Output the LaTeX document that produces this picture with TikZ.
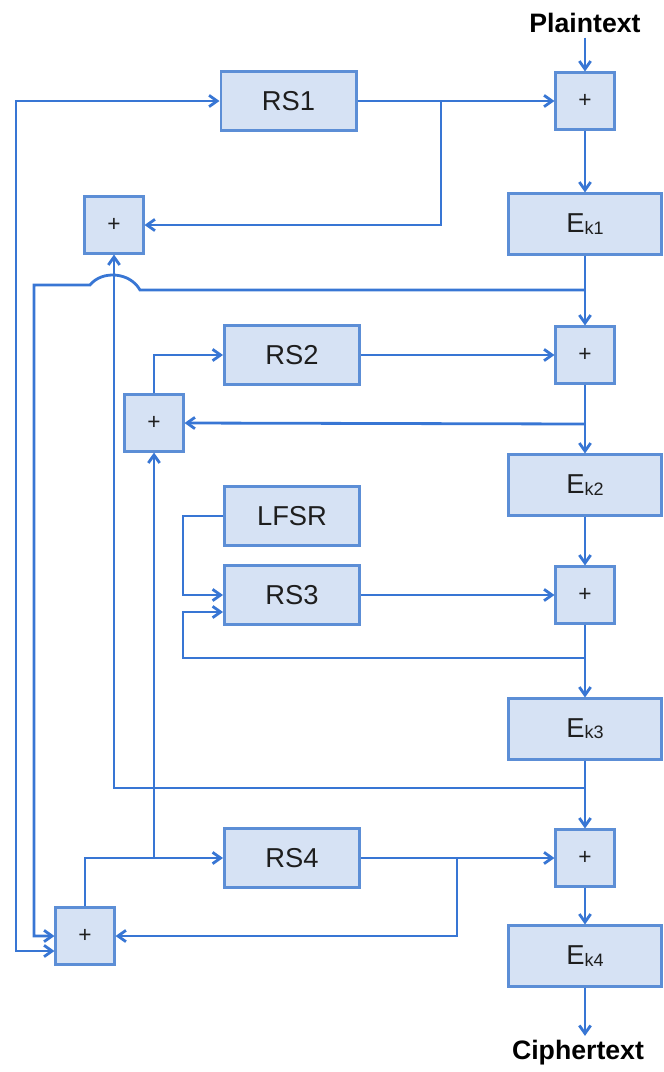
\documentclass[tikz,border=0pt]{standalone}
\usepackage{fontspec}
\setmainfont{Liberation Sans}
\usetikzlibrary{arrows.meta,calc}
\definecolor{ln}{RGB}{56,118,212}
\definecolor{bx}{RGB}{214,226,244}
\definecolor{bd}{RGB}{92,142,214}
\definecolor{tx}{RGB}{30,30,30}
\begin{document}
\begin{tikzpicture}[x=0.75pt,y=-0.75pt,
 box/.style={draw=bd,fill=bx,line width=2pt,inner sep=0pt,font=\fontsize{20.5}{24}\selectfont,text=tx},
 rs/.style={box,minimum width=101.5pt,minimum height=44.5pt},
 ek/.style={box,minimum width=114.3pt,minimum height=45.3pt},
 xr/.style={box,minimum width=43.8pt,minimum height=42.3pt,font=\fontsize{17}{20}\selectfont},
 lbl/.style={font=\bfseries\fontsize{20}{24}\selectfont,text=black},
 wire/.style={draw=ln,line width=2.1pt},
 arr/.style={wire,-{Straight Barb[length=6pt,width=8.5pt]}},
 dbl/.style={wire,{Straight Barb[length=6pt,width=8.5pt]}-{Straight Barb[length=6pt,width=8.5pt]}}]
\useasboundingbox (0,0) rectangle (664,1072);
\newcommand{\ekl}[1]{E\raisebox{-1pt}{\fontsize{13.5}{15}\selectfont k#1}}
% nodes
\node[lbl] (pt) at (585,23) {Plaintext};
\node[xr] (P0) at (585,101) {+};
\node[rs] (RS1) at (288.5,101) {RS1};
\node[ek] (E1) at (585,224) {\ekl{1}};
\node[xr] (P1) at (114,225) {+};
\node[xr] (P2) at (585,355) {+};
\node[rs] (RS2) at (292,355) {RS2};
\node[xr] (P3) at (154,423) {+};
\node[ek] (E2) at (585,485) {\ekl{2}};
\node[rs] (LF) at (292,516) {LFSR};
\node[rs] (RS3) at (292,595) {RS3};
\node[xr] (P4) at (585,595) {+};
\node[ek] (E3) at (585,729) {\ekl{3}};
\node[xr] (P5) at (585,858) {+};
\node[rs] (RS4) at (292,858) {RS4};
\node[xr] (P6) at (85,936) {+};
\node[ek] (E4) at (585,956) {\ekl{4}};
\node[lbl] (ct) at (578,1053) {Ciphertext};
% junctions
\coordinate (j1) at (441,101);
\coordinate (j2) at (585,290);
\coordinate (j3) at (585,424);
\coordinate (j4) at (585,658);
\coordinate (j5) at (585,788);
\coordinate (j6) at (457,858);
\coordinate (j7) at (154,858);
% main chain
\draw[arr] (pt.south) -- (P0.north);
\draw[arr] (P0.south) -- (E1.north);
\draw[arr] (E1.south) -- (P2.north);
\draw[arr] (P2.south) -- (E2.north);
\draw[arr] (E2.south) -- (P4.north);
\draw[arr] (P4.south) -- (E3.north);
\draw[arr] (E3.south) -- (P5.north);
\draw[arr] (P5.south) -- (E4.north);
\draw[arr] (E4.south) -- (E4.south |- ct.north);
% register outputs
\draw[arr] (RS1.east) -- (P0.west);
\draw[arr] (RS2.east) -- (P2.west);
\draw[arr] (RS3.east) -- (P4.west);
\draw[arr] (RS4.east) -- (P5.west);
% feedback
\draw[arr] (j1) |- (P1.east);
\draw[arr] (j2) -- (140,290) .. controls (130,272) and (102,270) .. (90,285) -- (34,285) |- (P6.west);
\draw[dbl] ($(P6.west)+(0,15)$) -| (16,101) -- (RS1.west);
\draw[arr] (j3) -- (P3.east);
\draw[arr] (P3.north) |- (RS2.west);
\draw[arr] (j7) -- (P3.south);
\draw[arr] (LF.west) -- ++(-40,0) |- (RS3.west);
\draw[arr] (j4) -| ($(RS3.west)+(-40,17)$) -- ($(RS3.west)+(0,17)$);
\draw[arr] (j5) -| (P1.south);
\draw[arr] (j6) |- (P6.east);
\draw[arr] (P6.north) |- (RS4.west);
\end{tikzpicture}
\end{document}
